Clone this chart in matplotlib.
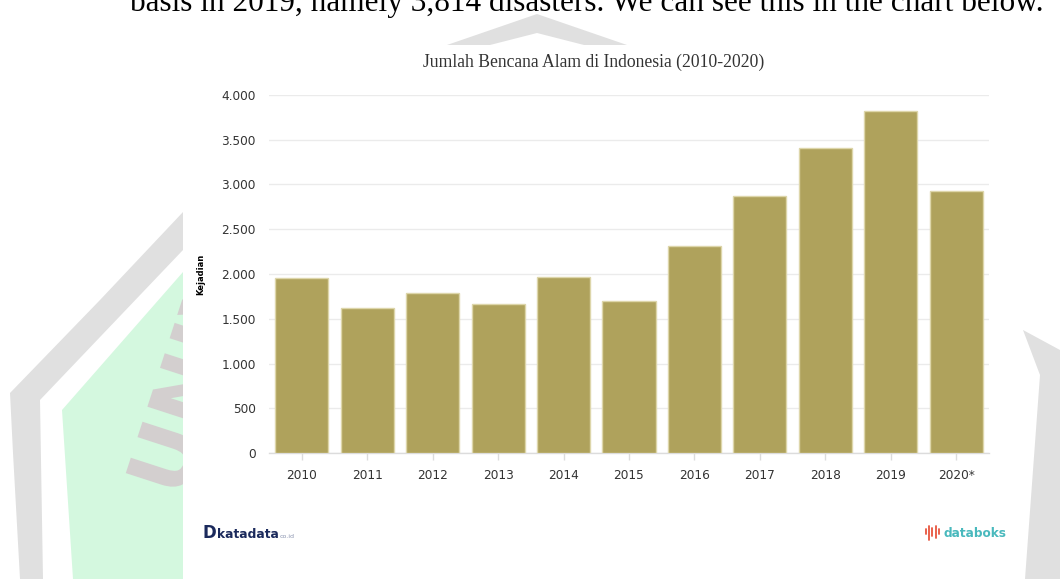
import matplotlib
matplotlib.use('Agg')
import matplotlib.pyplot as plt
from matplotlib.patches import Polygon, Rectangle, PathPatch
from matplotlib.textpath import TextPath
from matplotlib.font_manager import FontProperties
import matplotlib.transforms as mtransforms

# ---- data ----
years = ['2010', '2011', '2012', '2013', '2014', '2015', '2016', '2017', '2018', '2019', '2020*']
disasters = [1950, 1620, 1785, 1670, 1965, 1700, 2310, 2870, 3400, 3815, 2925]
y_ticks = [0, 500, 1000, 1500, 2000, 2500, 3000, 3500, 4000]
y_tick_labels = ['0', '500', '1.000', '1.500', '2.000', '2.500', '3.000', '3.500', '4.000']
title = 'Jumlah Bencana Alam di Indonesia (2010-2020)'
y_label = 'Kejadian'
top_sentence = 'basis in 2019, namely 3,814 disasters. We can see this in the chart below.'

W, H = 1060, 579
fig = plt.figure(figsize=(W / 100, H / 100), dpi=100)
fig.patch.set_facecolor('white')

# ---- background page (watermark) ----
bg = fig.add_axes([0, 0, 1, 1], zorder=0)
bg.set_xlim(0, W)
bg.set_ylim(H, 0)
bg.axis('off')

grey = Polygon([(537, 14), (447, 45), (300, 100), (183, 212), (100, 300), (10, 393),
                (13, 453), (20, 579), (1060, 579), (1060, 350), (1023, 330),
                (800, 100), (627, 45)], closed=True, facecolor='#e0e0e0', edgecolor='none')
bg.add_patch(grey)
white_in = Polygon([(537, 33), (584, 45), (800, 150), (1023, 330), (1040, 375), (1025, 579),
                    (43, 579), (40, 400), (183, 250), (490, 45)], closed=True,
                   facecolor='white', edgecolor='none')
bg.add_patch(white_in)
green = Polygon([(183, 272), (62, 410), (73, 579), (400, 579), (400, 200)], closed=True,
                facecolor='#d4f8df', edgecolor='none')
bg.add_patch(green)

tp = TextPath((0, 0), 'UNIVERSITAS', size=86,
              prop=FontProperties(family='DejaVu Sans', weight='bold'))
tr = mtransforms.Affine2D().scale(1, -1).rotate_deg(-72).translate(183, 500) + bg.transData
uni = PathPatch(tp, transform=tr, facecolor='#d3cfcf', edgecolor='none')
bg.add_patch(uni)
uni.set_clip_path(green)

# chart image box
bg.add_patch(Rectangle((183, 45), 840, 534, facecolor='white', edgecolor='none'))

# top sentence (cropped by the page top in the original)
bg.text(587, 11, top_sentence, ha='center', va='baseline', fontsize=22.5,
        family='Liberation Serif', color='black')

# title
bg.text(594, 62, title, ha='center', va='center', fontsize=12.7,
        family='Liberation Serif', color='#333333')

# logos
bg.text(203, 538, 'D', ha='left', va='baseline', fontsize=12, fontweight='bold',
        color='#1b2a5c', family='DejaVu Sans')
bg.text(217, 538, 'katadata', ha='left', va='baseline', fontsize=8.8, fontweight='bold',
        color='#1b2a5c', family='DejaVu Sans')
bg.text(280, 538, 'co.id', ha='left', va='baseline', fontsize=4.5,
        color='#8a94b0', family='DejaVu Sans')
bg.text(943, 537, 'databoks', ha='left', va='baseline', fontsize=8.7, fontweight='bold',
        color='#49b9bd', family='DejaVu Sans')
for dx, y0, y1 in [(0, 529, 534), (3.2, 526, 540), (6.4, 528, 536), (9.6, 526, 538), (12.8, 529, 534)]:
    bg.plot([926 + dx, 926 + dx], [y0, y1], color='#e8553e', lw=1.3, solid_capstyle='round')

# ---- chart ----
left, right, top, bottom = 269, 989, 94.7, 453.3
ax = fig.add_axes([left / W, 1 - bottom / H, (right - left) / W, (bottom - top) / H], zorder=2)
ax.patch.set_alpha(0)
x = list(range(len(years)))
ax.bar(x, disasters, width=0.81, color='#afa25c', edgecolor='#ddd6aa', linewidth=1, zorder=3)
ax.set_xlim(-0.5, len(years) - 0.5)
ax.set_ylim(0, 4000)
ax.set_yticks(y_ticks)
ax.set_yticklabels(y_tick_labels)
ax.set_xticks(x)
ax.set_xticklabels(years)
ax.yaxis.grid(True, color='#ebebeb', linewidth=1, zorder=0)
ax.set_axisbelow(True)
for s in ['top', 'right', 'left']:
    ax.spines[s].set_visible(False)
ax.spines['bottom'].set_color('#dcdcdc')
ax.spines['bottom'].set_linewidth(1)
ax.tick_params(axis='y', length=0, pad=9.5, labelsize=8.7, labelcolor='#333333')
ax.tick_params(axis='x', length=5, width=1, color='#dcdcdc', pad=6, labelsize=8.7,
               labelcolor='#333333')
for lab in ax.get_xticklabels() + ax.get_yticklabels():
    lab.set_family('DejaVu Sans')
ax.set_ylabel(y_label, fontsize=6, fontweight='bold', color='black')
ax.yaxis.set_label_coords((205 - left) / (right - left), 0.5)

fig.savefig('out.png', dpi=100, facecolor='white')
